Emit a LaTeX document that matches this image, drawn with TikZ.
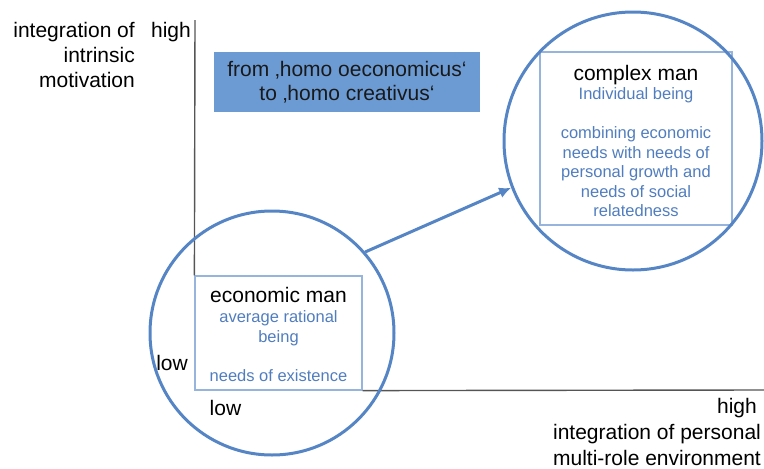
\documentclass[tikz,border=0pt]{standalone}
\usepackage{fontspec}
\setmainfont{Liberation Sans}
\usepackage{tikz}
\usetikzlibrary{positioning}
\usetikzlibrary{shapes,calc,arrows.meta}
\definecolor{ringblue}{RGB}{85,133,197}
\definecolor{bannerblue}{RGB}{108,155,212}
\definecolor{noteblue}{RGB}{80,125,190}
\definecolor{frameblue}{RGB}{150,180,220}
\definecolor{axisgray}{RGB}{85,85,85}
\tikzset{
  -{Latex[length=12pt,width=11pt]},
  axis/.style = {-, draw=axisgray, line width=1.4pt},
  ring/.style = {circle, draw=ringblue, line width=3pt, inner sep=0,
   minimum size=#1, node contents={}},
  frame/.style = {rectangle, draw=frameblue, line width=1.2pt, inner sep=0},
  banner/.style = {rectangle, fill=bannerblue, inner sep=0, align=center,
   text=black!90, font=\fontsize{21}{24}\selectfont},
  lbl/.style = {inner sep=0, font=\fontsize{21}{25}\selectfont},
  title/.style = {inner sep=0, font=\fontsize{21}{24}\selectfont},
  note/.style = {inner sep=0, align=center, text=noteblue,
   font=\fontsize{16.5}{19.5}\selectfont},
}
\begin{document}
\begin{tikzpicture}[x=1pt, y=-1pt]
  \useasboundingbox (0,0) rectangle (764,469);
  \node (econ) [frame, minimum width=167pt, minimum height=114pt] at (278.5,333) {};
  \node (cplx) [frame, minimum width=192pt, minimum height=173pt] at (636,138.5) {};
  \coordinate (ytop) at (195,20);
  \coordinate (xend) at (764,390);
  \draw[axis] (ytop) -- (econ.north west);
  \draw[axis] (econ.south east) -- (xend);
  \node (small) at (272,333) [ring=244pt];
  \node (big) at (633,141) [ring=258pt];
  \draw[ringblue, line width=3pt] (small.41) -- (big.201.5);
  \node (shift) [banner, minimum width=266pt, minimum height=60pt] at (347,82)
   {from ‚homo oeconomicus‘\\to ‚homo creativus‘};
  \node (econtitle) [title, anchor=base] at (278.5,302.5) {economic man};
  \node (econnote) [note, anchor=north] at (278.5,310.5)
   {average rational\\being\\[19.5pt]needs of existence};
  \node (cplxtitle) [title, anchor=base] at (636,80.5) {complex man};
  \node (cplxnote) [note, anchor=north] at (636,87.5)
   {Individual being\\[19.5pt]combining economic\\needs with needs of\\personal growth and\\needs of social\\relatedness};
  \node (yname) [lbl, align=right, anchor=north east] at (135,22.5)
   {integration of\\intrinsic\\motivation};
  \node (yhigh) [lbl, anchor=base east] at (191,37.5) {high};
  \node (ylow) [lbl, anchor=base east] at (188,370.5) {low};
  \node (xlow) [lbl, anchor=base west] at (209.5,415.5) {low};
  \node (xhigh) [lbl, anchor=base east] at (757,413.5) {high};
  \node (xname) [lbl, align=center, anchor=north, font=\fontsize{21}{26}\selectfont]
   at (657,424) {integration of personal\\multi-role environment};
\end{tikzpicture}
\end{document}
